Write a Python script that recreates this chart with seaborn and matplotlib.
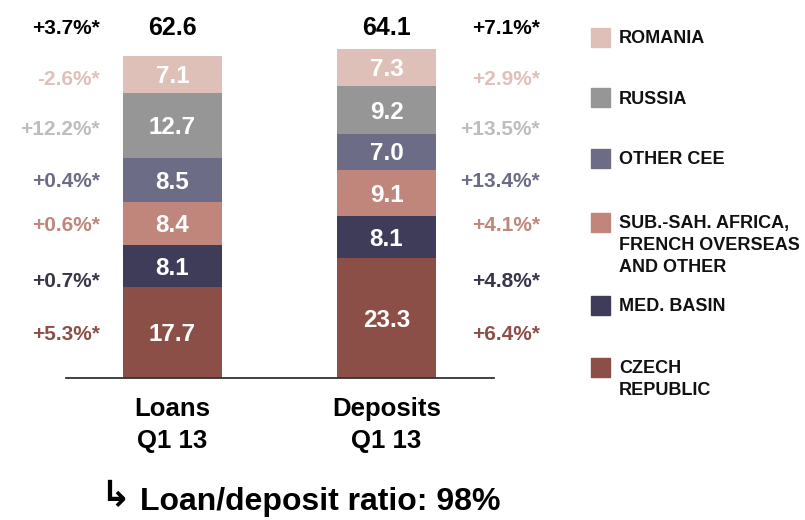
import numpy as np
import pandas as pd
import matplotlib
matplotlib.use("Agg")
import matplotlib.pyplot as plt
import matplotlib.transforms as mtransforms
from matplotlib.patches import Rectangle
import seaborn as sns

# ---------------- data ----------------
categories = ["Loans\nQ1 13", "Deposits\nQ1 13"]
regions = ["CZECH\nREPUBLIC", "MED. BASIN",
           "SUB.-SAH. AFRICA,\nFRENCH OVERSEAS\nAND OTHER",
           "OTHER CEE", "RUSSIA", "ROMANIA"]          # bottom -> top
loans = [17.7, 8.1, 8.4, 8.5, 12.7, 7.1]
deposits = [23.3, 8.1, 9.1, 7.0, 9.2, 7.3]
totals = [62.6, 64.1]
loans_growth = ["+5.3%*", "+0.7%*", "+0.6%*", "+0.4%*", "+12.2%*", "-2.6%*"]
deposits_growth = ["+6.4%*", "+4.8%*", "+4.1%*", "+13.4%*", "+13.5%*", "+2.9%*"]
total_growth = ["+3.7%*", "+7.1%*"]
ratio_text = "Loan/deposit ratio: 98%"

# ---------------- style ----------------
seg_colors = ["#8C4F47", "#3F3C5A", "#C0857B", "#6C6C86", "#969696", "#DFC0B8"]
growth_colors = ["#8C4F47", "#38374A", "#C0857B", "#6C6C86", "#BDBDBD", "#DFC0B8"]
growth_rows = [8.75, 19.05, 30.1, 38.5, 48.6, 58.5]   # label rows (data units)
total_row = 68.4

sns.set_theme(style="white")
plt.rcParams["font.family"] = ["Liberation Sans", "DejaVu Sans"]
plt.rcParams["font.weight"] = "bold"

W, H = 805, 520
fig = plt.figure(figsize=(W / 100, H / 100), dpi=100)
ax = fig.add_axes([65.5 / W, 142 / H, 428 / W, 370.4 / H])

df = pd.DataFrame({
    "category": np.repeat(categories, len(regions)),
    "region": regions * len(categories),
    "value": loans + deposits,
})
df["top"] = df.groupby("category", sort=False)["value"].cumsum()
df["bottom"] = df["top"] - df["value"]
df["mid"] = df["bottom"] + df["value"] / 2

# draw cumulative bars from the top segment down
for i in range(len(regions) - 1, -1, -1):
    sub = df[df["region"] == regions[i]]
    sns.barplot(data=sub, x="category", y="top", order=categories,
                color=seg_colors[i], saturation=1, width=0.463,
                linewidth=0, ax=ax)

ax.set_xlim(-0.5, 1.5)
ax.set_ylim(0, 72)
ax.set_xlabel("")
ax.set_ylabel("")
ax.set_yticks([])
for s in ["left", "right", "top"]:
    ax.spines[s].set_visible(False)
ax.spines["bottom"].set_color("#333333")
ax.spines["bottom"].set_linewidth(1.3)
ax.tick_params(axis="x", length=0, pad=14)
ax.set_xticks(range(len(categories)))
ax.set_xticklabels(categories, fontsize=18.5, fontweight="bold",
                   color="black", linespacing=1.42)


def cap_text(x, y, s, size, color, ha="center", transform=None, **kw):
    tr = mtransforms.offset_copy(transform or ax.transData, fig=fig,
                                 x=0, y=-0.358 * size, units="points")
    return ax.text(x, y, s, fontsize=size, color=color, ha=ha, va="baseline",
                   fontweight="bold", transform=tr, clip_on=False, **kw)


# segment values
for _, r in df.iterrows():
    j = categories.index(r["category"])
    cap_text(j, r["mid"], f"{r['value']:.1f}", 17.5, "white")

# totals
for j, t in enumerate(totals):
    cap_text(j, total_row, f"{t:.1f}", 18, "black")

# growth labels
x_left = (100 - 172.5) / 214
x_right = (540 - 172.5) / 214
for i in range(len(regions)):
    cap_text(x_left, growth_rows[i], loans_growth[i], 15, growth_colors[i], ha="right")
    cap_text(x_right, growth_rows[i], deposits_growth[i], 15, growth_colors[i], ha="right")
cap_text(x_left, total_row, total_growth[0], 15, "black", ha="right")
cap_text(x_right, total_row, total_growth[1], 15, "black", ha="right")

# legend (manual, top to bottom)
leg_rows = [37, 98, 158, 222, 305, 367]
for k, i in enumerate(range(len(regions) - 1, -1, -1)):
    yc = leg_rows[k]
    fig.patches.append(Rectangle((591 / W, 1 - (yc + 9.5) / H), 19 / W, 19 / H,
                                 transform=fig.transFigure, color=seg_colors[i]))
    for n, line in enumerate(regions[i].split("\n")):
        ly = yc + 22 * n
        tr = mtransforms.offset_copy(fig.transFigure, fig=fig, x=0,
                                     y=-0.358 * 13, units="points")
        fig.text(619 / W, 1 - ly / H, line, fontsize=13, fontweight="bold",
                 color="#111111", ha="left", va="baseline", transform=tr)

# bottom ratio line
tr = mtransforms.offset_copy(fig.transFigure, fig=fig, x=0, y=-0.358 * 23, units="points")
fig.text(115 / W, 1 - 495 / H, "\u21b3", fontsize=26, fontweight="bold",
         family="DejaVu Sans", ha="center", va="baseline", transform=tr, color="black")
fig.text(140 / W, 1 - 499 / H, ratio_text, fontsize=23, fontweight="bold",
         ha="left", va="baseline", transform=tr, color="black")

fig.savefig("out.png", dpi=100)
